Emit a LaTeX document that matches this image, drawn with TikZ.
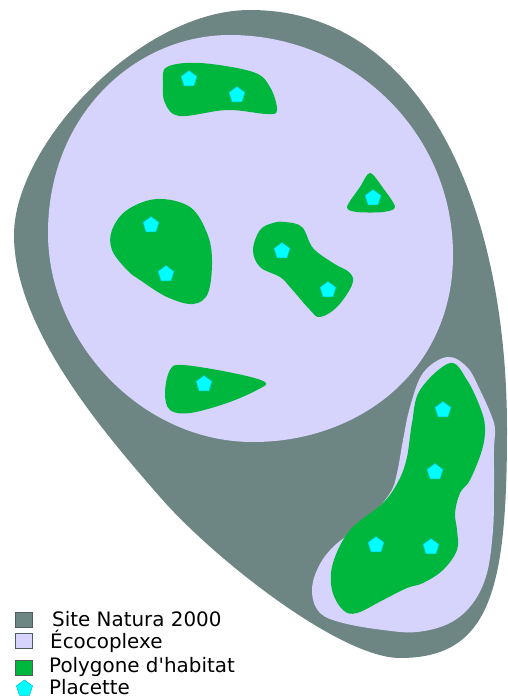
\documentclass[tikz,border=0pt]{standalone}
\usepackage{fontspec}
\newfontfamily\legfont{DejaVu Sans}
\usetikzlibrary{shapes.geometric}
\definecolor{natura}{RGB}{110,134,131}
\definecolor{eco}{RGB}{214,212,252}
\definecolor{habitat}{RGB}{0,183,61}
\definecolor{placecol}{RGB}{0,255,255}
\definecolor{placeedge}{RGB}{0,190,190}
\tikzset{
  naturafill/.style={fill=natura},
  ecofill/.style={fill=eco},
  habfill/.style={fill=habitat},
  placette/.style={regular polygon, regular polygon sides=5, fill=placecol, draw=placeedge, line width=0.5pt, minimum size=17pt, inner sep=0pt},
  legbox/.style={minimum width=17pt, minimum height=15pt, inner sep=0pt, draw=natura!70!black, line width=0.8pt},
  legtext/.style={anchor=base west, inner sep=0pt, font=\legfont\fontsize{19.9}{23}\selectfont}
}
\begin{document}
\begin{tikzpicture}[x=1pt,y=-1pt]
\useasboundingbox (0,0) rectangle (507,698);
% Site Natura 2000
\fill[naturafill] (250,10) .. controls (420,10) and (507,200) .. (507,430)
  .. controls (507,590) and (490,658) .. (400,658)
  .. controls (340,658) and (213,558) .. (160,497)
  .. controls (107,436) and (14,330) .. (14,235)
  .. controls (14,145) and (140,10) .. (250,10) -- cycle;
% Ecocomplexe (large)
\fill[ecofill] (230,35) .. controls (350,35) and (453,130) .. (453,255)
  .. controls (453,370) and (360,442) .. (253,442)
  .. controls (140,442) and (48,340) .. (48,233)
  .. controls (48,115) and (135,35) .. (230,35) -- cycle;
% Ecocomplexe (small)
\fill[ecofill] plot[smooth cycle, tension=0.6] coordinates {
 (447,357) (467,367) (480,390) (492,417) (495,430) (494,450) (494,490) (493,530)
 (487,573) (473,603) (450,623) (417,632) (383,630) (343,623) (320,613) (312,593)
 (317,570) (333,547) (367,520) (390,493) (397,473) (403,440) (410,407) (423,373)};
% Habitat polygons
\fill[habfill] plot[smooth cycle, tension=0.6] coordinates {
 (450,363) (467,380) (480,407) (485,427) (482,450) (470,480) (460,493) (455,513)
 (457,530) (457,550) (443,570) (423,583) (407,588) (383,600) (357,613) (343,610)
 (332,590) (333,563) (350,530) (383,503) (399,480) (407,457) (412,423) (420,390)};
\fill[habfill] plot[smooth cycle, tension=0.6] coordinates {
 (167,67) (200,63) (253,72) (270,87) (277,110) (267,114) (227,110) (180,116)
 (165,103) (163,83)};
\fill[habfill] plot[smooth cycle, tension=0.5] coordinates {
 (370,173) (383,188) (395,207) (383,212) (357,212) (347,207) (360,187)};
\fill[habfill] plot[smooth cycle, tension=0.6] coordinates {
 (157,199) (190,207) (207,233) (212,260) (208,293) (193,304) (167,297) (140,280)
 (127,270) (112,250) (112,230) (127,210)};
\fill[habfill] plot[smooth cycle, tension=0.6] coordinates {
 (285,222) (302,227) (313,248) (333,263) (350,273) (352,285) (337,307) (320,317)
 (310,310) (290,287) (280,277) (260,267) (253,250) (260,230) (273,223)};
\fill[habfill] plot[smooth cycle, tension=0.6] coordinates {
 (170,370) (183,365) (233,373) (265,382) (257,390) (227,403) (190,413) (170,410)
 (165,393)};
% Placettes
\node[placette] (p1) at (189,79) {};
\node[placette] (p2) at (237,95) {};
\node[placette] (p3) at (373,198) {};
\node[placette] (p4) at (151,225) {};
\node[placette] (p5) at (166,274) {};
\node[placette] (p6) at (282,251) {};
\node[placette] (p7) at (328,290) {};
\node[placette] (p8) at (204,384) {};
\node[placette] (p9) at (443,410) {};
\node[placette] (p10) at (435,472) {};
\node[placette] (p11) at (376,545) {};
\node[placette] (p12) at (431,547) {};
% Legend
\node[legbox, fill=natura] (l1) at (23.5,619.5) {};
\node[legbox, fill=eco] (l2) at (23.5,641) {};
\node[legbox, fill=habitat] (l3) at (23.5,667.5) {};
\node[placette] (l4) at (24.5,688.5) {};
\node[legtext] (t1) at (52,626) {Site Natura 2000};
\node[legtext] (t2) at (50,648) {Écocoplexe};
\node[legtext] (t3) at (49,672) {Polygone d'habitat};
\node[legtext] (t4) at (49,694) {Placette};
\end{tikzpicture}
\end{document}
